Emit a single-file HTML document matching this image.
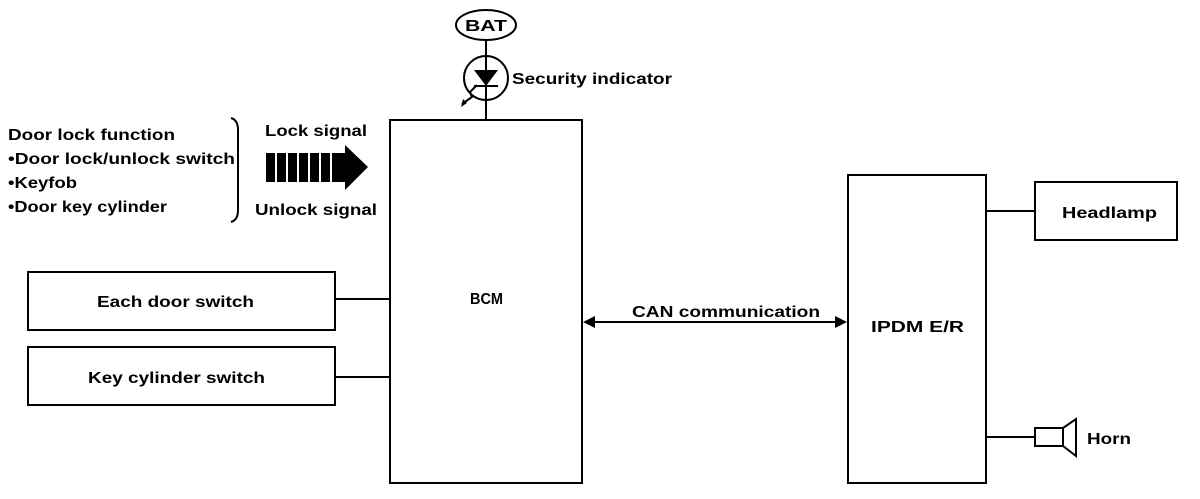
<!DOCTYPE html>
<html><head><style>
body{margin:0;background:#fff;}
svg text{font-family:"Liberation Sans",Arial,sans-serif;font-weight:bold;fill:#000;}
</style></head><body>
<svg width="1200" height="494" viewBox="0 0 1200 494" xmlns="http://www.w3.org/2000/svg">
<g fill="none" stroke="#000" stroke-width="2">
<ellipse cx="486" cy="25" rx="30" ry="15"/>
<line x1="486" y1="40" x2="486" y2="120"/>
<circle cx="486" cy="78" r="22"/>
<line x1="474" y1="86" x2="498" y2="86"/>
<polyline points="477,85 470,92 472,97 462,104"/>
<rect x="390" y="120" width="192" height="363"/>
<rect x="28" y="272" width="307" height="58"/>
<rect x="28" y="347" width="307" height="58"/>
<line x1="335" y1="299" x2="390" y2="299"/>
<line x1="335" y1="377" x2="390" y2="377"/>
<rect x="848" y="175" width="138" height="308"/>
<rect x="1035" y="182" width="142" height="58"/>
<line x1="986" y1="211" x2="1035" y2="211"/>
<line x1="986" y1="437" x2="1035" y2="437"/>
<rect x="1035" y="428" width="28" height="18"/>
<polyline points="1063,428 1076,419 1076,456 1063,446"/>
<line x1="592" y1="322" x2="838" y2="322"/>
<path d="M231 118 Q238 120 238 130 L238 210 Q238 220 231 222"/>
</g>
<polygon points="474,70 498,70 486,86" fill="#000"/>
<polygon points="461,107 463,99 467,103" fill="#000"/>
<polygon points="583,322 595,316 595,328" fill="#000"/>
<polygon points="847,322 835,316 835,328" fill="#000"/>
<g fill="#000">
<rect x="266" y="153" width="9" height="29"/>
<rect x="277" y="153" width="9" height="29"/>
<rect x="288" y="153" width="9" height="29"/>
<rect x="299" y="153" width="9" height="29"/>
<rect x="310" y="153" width="9" height="29"/>
<rect x="321" y="153" width="9" height="29"/>
<polygon points="332,153 345,153 345,145 368,167 345,190 345,182 332,182"/>
</g>
<g font-size="16">
<text x="465" y="31" textLength="42" lengthAdjust="spacingAndGlyphs">BAT</text>
<text x="512" y="84" textLength="160" lengthAdjust="spacingAndGlyphs">Security indicator</text>
<text x="8" y="140" textLength="167" lengthAdjust="spacingAndGlyphs">Door lock function</text>
<text x="8" y="164" textLength="227" lengthAdjust="spacingAndGlyphs">•Door lock/unlock switch</text>
<text x="8" y="188" textLength="69" lengthAdjust="spacingAndGlyphs">•Keyfob</text>
<text x="8" y="212" textLength="159" lengthAdjust="spacingAndGlyphs">•Door key cylinder</text>
<text x="265" y="136" textLength="102" lengthAdjust="spacingAndGlyphs">Lock signal</text>
<text x="255" y="215" textLength="122" lengthAdjust="spacingAndGlyphs">Unlock signal</text>
<text x="470" y="304" textLength="33" lengthAdjust="spacingAndGlyphs">BCM</text>
<text x="97" y="307" textLength="157" lengthAdjust="spacingAndGlyphs">Each door switch</text>
<text x="88" y="383" textLength="177" lengthAdjust="spacingAndGlyphs">Key cylinder switch</text>
<text x="632" y="317" textLength="188" lengthAdjust="spacingAndGlyphs">CAN communication</text>
<text x="871" y="332" textLength="93" lengthAdjust="spacingAndGlyphs">IPDM E/R</text>
<text x="1062" y="218" textLength="95" lengthAdjust="spacingAndGlyphs">Headlamp</text>
<text x="1087" y="444" textLength="44" lengthAdjust="spacingAndGlyphs">Horn</text>
</g>
</svg>
</body></html>
